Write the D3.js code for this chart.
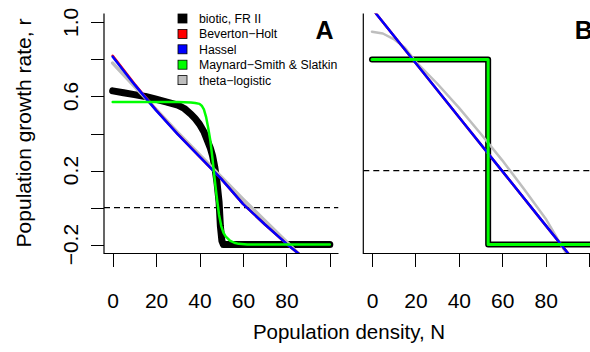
<!DOCTYPE html>
<html lang="en">
	<head>
		<meta charset="utf-8">
		<title>Population growth rate</title>
		<script src="https://d3js.org/d3.v7.min.js"></script>
		<style type="text/css">
			body { margin: 0; background: white; }
			svg { display: block; }
			text { font-family: "Liberation Sans", Arial, sans-serif; fill: black; }
			.axis path { display: none; }
			.axis line { stroke: black; stroke-width: 1; shape-rendering: crispEdges; }
			.axis text { font-size: 21px; }
		</style>
	</head>
	<body>
		<script type="text/javascript">
			//Width and height
			var w = 590;
			var h = 352;

			//Tick values and labels
			var xTicks = [0, 20, 40, 60, 80, 100];
			var xLabels = ["0", "20", "40", "60", "80", ""];
			var yTicks = [-0.2, 0, 0.2, 0.4, 0.6, 0.8, 1.0];
			var yLabels = ["\u22120.2", "", "0.2", "", "0.6", "", "1.0"];

			//Legend
			var seriesNames = ["biotic, FR II", "Beverton\u2212Holt", "Hassel", "Maynard\u2212Smith & Slatkin", "theta\u2212logistic"];
			var seriesColors = ["#000000", "#ff0000", "#0000ff", "#00ff00", "#bebebe"];

			//Panel A data, [N, r]
			var bioticA = [[0, 0.63], [5, 0.62], [10, 0.61], [15, 0.60], [20, 0.585], [25, 0.57], [30, 0.553],
				[33, 0.535], [36, 0.505], [38, 0.48], [40, 0.45], [42, 0.41], [44, 0.35], [45, 0.32], [46, 0.28],
				[47, 0.22], [48, 0.14], [49, 0.03], [49.6, -0.1], [50.3, -0.18], [51, -0.2], [60, -0.2], [80, -0.2], [100, -0.2]];
			var bevertonA = [[0, 0.82], [10, 0.668], [20, 0.527], [30, 0.396], [40, 0.275], [50, 0.155],
				[60, 0.02], [70, -0.09], [80, -0.195], [90, -0.29]];
			var hasselA = [[0, 0.815], [10, 0.665], [20, 0.525], [30, 0.395], [40, 0.275], [50, 0.155],
				[60, 0.02], [70, -0.09], [80, -0.195], [90, -0.29]];
			var maynardA = [[0, 0.57], [10, 0.57], [20, 0.57], [30, 0.57], [36, 0.568], [38, 0.565], [40, 0.56],
				[41, 0.55], [42, 0.53], [43, 0.49], [44, 0.43], [45, 0.36], [46, 0.26], [47, 0.15], [48, 0.05],
				[49, -0.04], [50, -0.1], [51, -0.135], [52, -0.155], [54, -0.178], [56, -0.19], [58, -0.196],
				[62, -0.199], [70, -0.2], [100, -0.2]];
			var thetaA = [[0, 0.78], [10, 0.655], [20, 0.53], [30, 0.405], [40, 0.285], [50, 0.165],
				[60, 0.045], [70, -0.07], [80, -0.185], [90, -0.3]];

			//Panel B data, [N, r]
			var bioticB = [[0, 0.8], [53.5, 0.8], [53.5, -0.2], [110, -0.2]];
			var bevertonB = [[0, 1.075], [20, 0.782], [40, 0.489], [60, 0.197], [80, -0.096], [100, -0.389]];
			var hasselB = [[0, 1.075], [20, 0.782], [40, 0.489], [60, 0.197], [80, -0.096], [100, -0.389]];
			var maynardB = [[0, 0.8], [53.5, 0.8], [53.5, -0.2], [110, -0.2]];
			var thetaB = [[0, 0.95], [5, 0.94], [10, 0.91], [15, 0.865], [20, 0.79], [30, 0.67], [40, 0.54],
				[50, 0.40], [60, 0.255], [70, 0.10], [80, -0.06], [90, -0.26]];

			//Create SVG element
			var svg = d3.select("body")
						.append("svg")
						.attr("width", w)
						.attr("height", h);

			svg.append("rect").attr("width", w).attr("height", h).attr("fill", "white");

			//Shared y scale (R style, 4% padding on [-0.2, 1.0])
			var yScale = d3.scaleLinear()
							.domain([-0.248, 1.048])
							.range([253.5, 13.5]);

			function drawPanel(id, left, series, refLine, letter, showY) {
				var xScale = d3.scaleLinear()
								.domain([-4, 104])
								.range([left, left + 234.5]);

				var line = d3.line()
					.x(function(d) { return xScale(d[0]); })
					.y(function(d) { return yScale(d[1]); });

				svg.append("clipPath")
					.attr("id", "clip" + id)
					.append("rect")
					.attr("x", xScale(-4))
					.attr("y", yScale(1.048))
					.attr("width", xScale(104) - xScale(-4))
					.attr("height", yScale(-0.248) - yScale(1.048));

				var plot = svg.append("g").attr("clip-path", "url(#clip" + id + ")");

				//Dashed reference line
				plot.append("line")
					.attr("x1", xScale(-4))
					.attr("x2", xScale(104))
					.attr("y1", yScale(refLine))
					.attr("y2", yScale(refLine))
					.attr("stroke", "black")
					.attr("stroke-width", 1.2)
					.attr("stroke-dasharray", "6,4");

				//Curves, drawn bottom to top
				series.forEach(function(s) {
					plot.append("path")
						.datum(s.data)
						.attr("d", line)
						.attr("fill", "none")
						.attr("stroke", s.color)
						.attr("stroke-width", s.width)
						.attr("stroke-linecap", "round")
						.attr("stroke-linejoin", "round");
				});

				//L-shaped box
				svg.append("path")
					.attr("d", "M" + xScale(-4) + "," + yScale(1.048) + "V" + yScale(-0.248) + "H" + xScale(104))
					.attr("fill", "none")
					.attr("stroke", "black")
					.attr("stroke-width", 1.2);

				//X axis
				var xAxis = d3.axisBottom(xScale)
								.tickValues(xTicks)
								.tickSize(13)
								.tickPadding(27)
								.tickFormat(function(d, i) { return xLabels[i]; });
				svg.append("g")
					.attr("class", "x axis")
					.attr("transform", "translate(0," + 253.5 + ")")
					.call(xAxis);

				//Y axis
				if (showY) {
					var yAxis = d3.axisLeft(yScale)
									.tickValues(yTicks)
									.tickSize(13)
									.tickFormat("");
					svg.append("g")
						.attr("class", "y axis")
						.attr("transform", "translate(" + xScale(-4) + ",0)")
						.call(yAxis);

					svg.append("g")
						.selectAll("text")
						.data(yTicks)
						.enter()
						.append("text")
						.attr("transform", function(d) { return "translate(78," + yScale(d) + ") rotate(-90)"; })
						.attr("text-anchor", "middle")
						.style("font-size", "21px")
						.text(function(d, i) { return yLabels[i]; });
				}

				//Panel letter
				svg.append("text")
					.attr("x", xScale(104) - 5)
					.attr("y", 39)
					.attr("text-anchor", "end")
					.style("font-size", "25px")
					.style("font-weight", "bold")
					.text(letter);
			}

			drawPanel("A", 104, [
				{ data: bioticA, color: seriesColors[0], width: 7 },
				{ data: thetaA, color: seriesColors[4], width: 3.5 },
				{ data: bevertonA, color: seriesColors[1], width: 2.5 },
				{ data: hasselA, color: seriesColors[2], width: 2.5 },
				{ data: maynardA, color: seriesColors[3], width: 2.5 }
			], 0, "A", true);

			drawPanel("B", 363.3, [
				{ data: bioticB, color: seriesColors[0], width: 6 },
				{ data: thetaB, color: seriesColors[4], width: 2.5 },
				{ data: bevertonB, color: seriesColors[1], width: 2.5 },
				{ data: hasselB, color: seriesColors[2], width: 2.5 },
				{ data: maynardB, color: seriesColors[3], width: 3 }
			], 0.2, "B", false);

			//Legend
			var legend = svg.append("g")
							.selectAll("g")
							.data(seriesNames)
							.enter()
							.append("g")
							.attr("transform", function(d, i) { return "translate(178," + (18.5 + i * 15.4) + ")"; });

			legend.append("rect")
				.attr("x", 0)
				.attr("y", -4.5)
				.attr("width", 9)
				.attr("height", 9)
				.attr("fill", function(d, i) { return seriesColors[i]; })
				.attr("stroke", "black")
				.attr("stroke-width", 0.8);

			legend.append("text")
				.attr("x", 21)
				.attr("y", 4.5)
				.style("font-size", "12.3px")
				.text(function(d) { return d; });

			//Axis titles
			svg.append("text")
				.attr("transform", "translate(31," + 133 + ") rotate(-90)")
				.attr("text-anchor", "middle")
				.style("font-size", "21px")
				.text("Population growth rate, r");

			svg.append("text")
				.attr("x", 349)
				.attr("y", 339)
				.attr("text-anchor", "middle")
				.style("font-size", "20.5px")
				.text("Population density, N");
		</script>
	</body>
</html>
